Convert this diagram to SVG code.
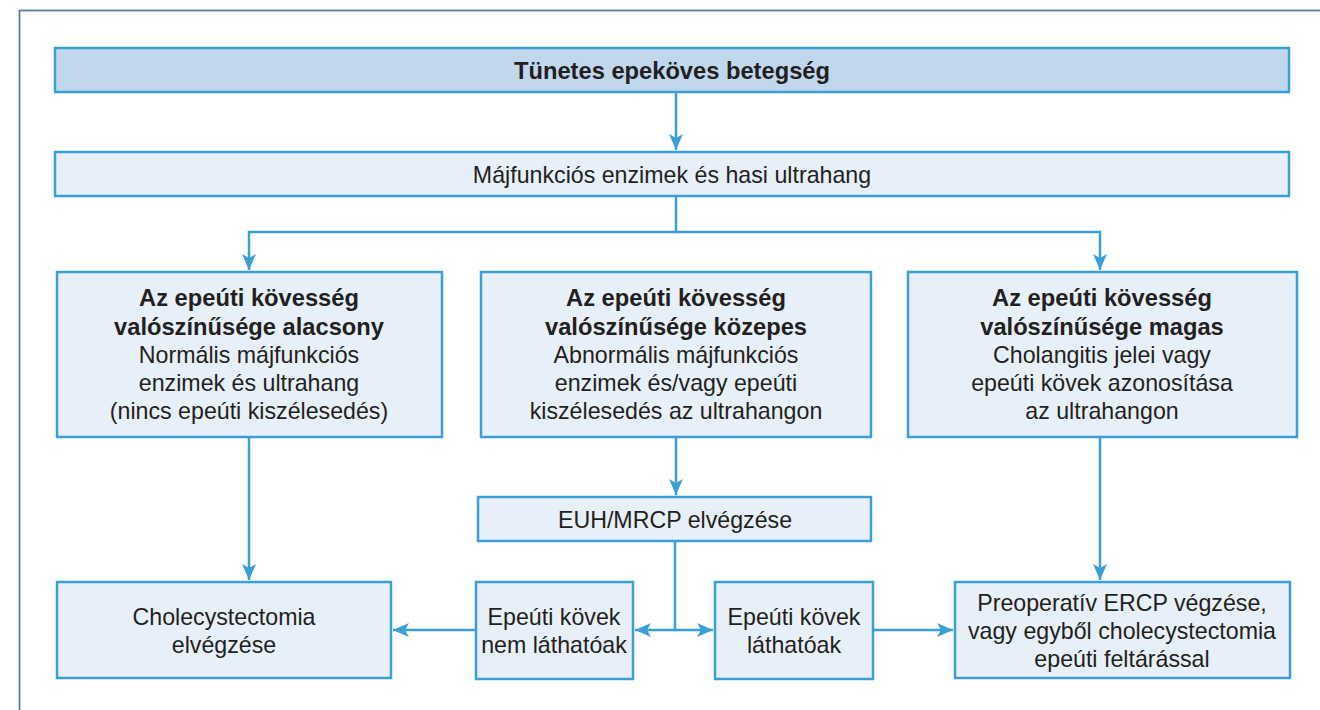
<svg xmlns="http://www.w3.org/2000/svg" width="1320" height="710" viewBox="0 0 1320 710">
<style>
.box{fill:#e7eff9;stroke:#3a9fd6;stroke-width:2.5}
.head{fill:#c0d7ed;stroke:#3a9fd6;stroke-width:2.5}
.t{font-family:"Liberation Sans",Arial,sans-serif;font-size:23.2px;fill:#231f20;text-anchor:middle}
.b{font-weight:bold;font-size:23.7px}
.c{fill:none;stroke:#3a9fd6;stroke-width:2.5}
</style>
<defs>
<marker id="ah" markerUnits="userSpaceOnUse" markerWidth="18" markerHeight="14" refX="16" refY="7" orient="auto">
<path d="M0,0 L16,7 L0,14 L4,7 Z" fill="#3a9fd6"/>
</marker>
</defs>
<rect width="1320" height="710" fill="#ffffff"/>
<rect x="19.5" y="10.5" width="1400" height="800" fill="none" stroke="#5a7bab" stroke-width="1.8"/>
<g id="connectors">
<path class="c" d="M676,92 V150" marker-end="url(#ah)"/>
<path class="c" d="M676,196 V232 H249 V270" marker-end="url(#ah)"/>
<path class="c" d="M676,232 H1100 V270" marker-end="url(#ah)"/>
<path class="c" d="M676,437 V495" marker-end="url(#ah)"/>
<path class="c" d="M249,437 V580" marker-end="url(#ah)"/>
<path class="c" d="M1100,437 V580" marker-end="url(#ah)"/>
<path class="c" d="M675,541 V630 H635" marker-end="url(#ah)"/>
<path class="c" d="M675,630 H713" marker-end="url(#ah)"/>
<path class="c" d="M476,630 H393" marker-end="url(#ah)"/>
<path class="c" d="M873,630 H953" marker-end="url(#ah)"/>
</g>
<g id="n-top">
<rect class="head" x="55" y="48" width="1234" height="44"/>
<text class="t b" x="672" y="79">Tünetes epeköves betegség</text>
</g>
<g id="n-lab">
<rect class="box" x="55" y="152" width="1234" height="44"/>
<text class="t" x="672" y="183">Májfunkciós enzimek és hasi ultrahang</text>
</g>
<g id="n-low">
<rect class="box" x="57" y="272" width="385" height="165"/>
<text class="t b" x="249" y="306">Az epeúti kövesség</text>
<text class="t b" x="249" y="335">valószínűsége alacsony</text>
<text class="t" x="249" y="363">Normális májfunkciós</text>
<text class="t" x="249" y="391">enzimek és ultrahang</text>
<text class="t" x="249" y="419">(nincs epeúti kiszélesedés)</text>
</g>
<g id="n-mid">
<rect class="box" x="481" y="272" width="390" height="165"/>
<text class="t b" x="676" y="306">Az epeúti kövesség</text>
<text class="t b" x="676" y="335">valószínűsége közepes</text>
<text class="t" x="676" y="363">Abnormális májfunkciós</text>
<text class="t" x="676" y="391">enzimek és/vagy epeúti</text>
<text class="t" x="676" y="419">kiszélesedés az ultrahangon</text>
</g>
<g id="n-high">
<rect class="box" x="908" y="272" width="389" height="165"/>
<text class="t b" x="1102" y="306">Az epeúti kövesség</text>
<text class="t b" x="1102" y="335">valószínűsége magas</text>
<text class="t" x="1102" y="363">Cholangitis jelei vagy</text>
<text class="t" x="1102" y="391">epeúti kövek azonosítása</text>
<text class="t" x="1102" y="419">az ultrahangon</text>
</g>
<g id="n-euh">
<rect class="box" x="478" y="497" width="393" height="44"/>
<text class="t" x="675" y="528">EUH/MRCP elvégzése</text>
</g>
<g id="n-chole">
<rect class="box" x="57" y="582" width="334" height="96"/>
<text class="t" x="224" y="625">Cholecystectomia</text>
<text class="t" x="224" y="653">elvégzése</text>
</g>
<g id="n-nem">
<rect class="box" x="476" y="582" width="157" height="97"/>
<text class="t" x="554" y="625">Epeúti kövek</text>
<text class="t" x="554" y="653">nem láthatóak</text>
</g>
<g id="n-lat">
<rect class="box" x="715" y="582" width="158" height="97"/>
<text class="t" x="794" y="625">Epeúti kövek</text>
<text class="t" x="794" y="653">láthatóak</text>
</g>
<g id="n-preop">
<rect class="box" x="955" y="582" width="335" height="96"/>
<text class="t" x="1122" y="611">Preoperatív ERCP végzése,</text>
<text class="t" x="1122" y="639">vagy egyből cholecystectomia</text>
<text class="t" x="1122" y="667">epeúti feltárással</text>
</g>
</svg>
